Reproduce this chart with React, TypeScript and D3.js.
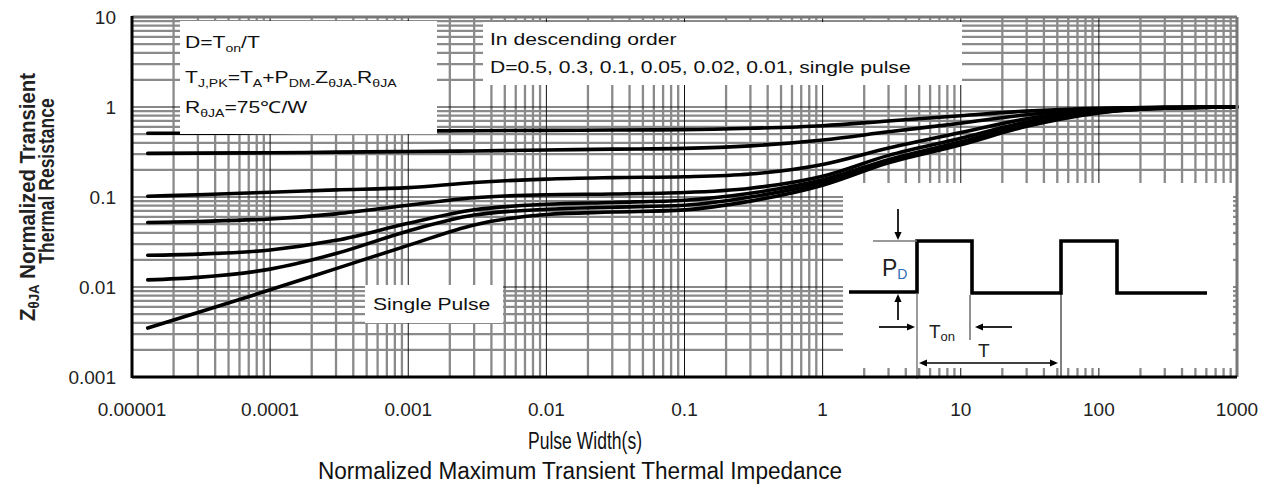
import React from "react";
import * as d3 from "d3";

// ---------- data ----------
const xTickValues = [1e-5, 1e-4, 1e-3, 1e-2, 1e-1, 1, 10, 100, 1000];
const xTickLabels = ["0.00001", "0.0001", "0.001", "0.01", "0.1", "1", "10", "100", "1000"];
const yTickValues = [0.001, 0.01, 0.1, 1, 10];
const yTickLabels = ["0.001", "0.01", "0.1", "1", "10"];

const pulseWidth = [1.3e-5, 3e-5, 1e-4, 3e-4, 1e-3, 3e-3, 1e-2, 3e-2, 0.1, 0.3, 1, 3, 10, 30, 100, 300, 1000];
const zD050 = [0.51, 0.51, 0.52, 0.53, 0.54, 0.545, 0.55, 0.555, 0.56, 0.58, 0.62, 0.7, 0.8, 0.9, 0.97, 0.995, 1.0];
const zD030 = [0.305, 0.307, 0.31, 0.315, 0.32, 0.325, 0.333, 0.34, 0.347, 0.37, 0.43, 0.53, 0.66, 0.82, 0.95, 0.99, 1.0];
const zD010 = [0.102, 0.106, 0.113, 0.12, 0.127, 0.145, 0.158, 0.164, 0.168, 0.18, 0.23, 0.35, 0.52, 0.74, 0.93, 0.985, 1.0];
const zD005 = [0.052, 0.0535, 0.057, 0.065, 0.081, 0.098, 0.106, 0.108, 0.112, 0.125, 0.17, 0.29, 0.45, 0.68, 0.9, 0.98, 1.0];
const zD002 = [0.0225, 0.0232, 0.0258, 0.033, 0.051, 0.072, 0.083, 0.087, 0.092, 0.11, 0.155, 0.26, 0.41, 0.64, 0.88, 0.975, 1.0];
const zD001 = [0.012, 0.0128, 0.0158, 0.0235, 0.042, 0.063, 0.073, 0.077, 0.081, 0.1, 0.145, 0.25, 0.39, 0.62, 0.87, 0.97, 1.0];
const zSingle = [0.0035, 0.0052, 0.0093, 0.016, 0.029, 0.049, 0.064, 0.068, 0.072, 0.09, 0.135, 0.24, 0.38, 0.61, 0.86, 0.97, 1.0];

const seriesNames = ["D=0.5", "D=0.3", "D=0.1", "D=0.05", "D=0.02", "D=0.01", "single pulse"];
const seriesValues = [zD050, zD030, zD010, zD005, zD002, zD001, zSingle];

const FONT = "'Liberation Sans', Arial, Helvetica, sans-serif";
const SX = 1.28; // horizontal stretch of the datasheet picture text

function Arrow({ x1, y1, x2, y2, head = 8, w = 1.7 }: any) {
  const a = Math.atan2(y2 - y1, x2 - x1);
  const bx = x2 - head * Math.cos(a);
  const by = y2 - head * Math.sin(a);
  const px = Math.sin(a) * head * 0.45;
  const py = -Math.cos(a) * head * 0.45;
  return (
    <g>
      <line x1={x1} y1={y1} x2={bx} y2={by} stroke="#000" strokeWidth={w} />
      <polygon points={`${x2},${y2} ${bx + px},${by + py} ${bx - px},${by - py}`} fill="#000" />
    </g>
  );
}

export default function App() {
  const L = 132, R = 1237, T = 17, B = 377;
  const x = d3.scaleLog().domain([1e-5, 1000]).range([L, R]);
  const y = d3.scaleLog().domain([0.001, 10]).range([B, T]);

  const xMinor: number[] = [];
  for (let e = -5; e < 3; e++) for (let m = 2; m <= 9; m++) xMinor.push(m * Math.pow(10, e));
  const yMinor: number[] = [];
  for (let e = -3; e < 1; e++) for (let m = 2; m <= 9; m++) yMinor.push(m * Math.pow(10, e));

  const line = d3
    .line<number>()
    .x((_, i) => x(pulseWidth[i]))
    .y((d) => y(d))
    .curve(d3.curveMonotoneX);

  const gridGray = "#8a8a8a";

  return (
    <svg
      width={1269}
      height={499}
      viewBox="0 0 1269 499"
      style={{ position: "absolute", left: 0, top: 0, background: "#fff" }}
      fontFamily={FONT}
    >
      <rect x={0} y={0} width={1269} height={499} fill="#fff" />
      {/* grid */}
      <g>
        {xMinor.map((v, i) => (
          <line key={"xm" + i} x1={x(v)} x2={x(v)} y1={T} y2={B} stroke={gridGray} strokeWidth={2.3} />
        ))}
        {yMinor.map((v, i) => (
          <line key={"ym" + i} x1={L} x2={R} y1={y(v)} y2={y(v)} stroke={gridGray} strokeWidth={2.3} />
        ))}
        {xTickValues.map((v, i) => (
          <line key={"xd" + i} x1={x(v)} x2={x(v)} y1={T} y2={B} stroke="#111" strokeWidth={1} />
        ))}
        {yTickValues.map((v, i) => (
          <line key={"yd" + i} x1={L} x2={R} y1={y(v)} y2={y(v)} stroke="#111" strokeWidth={1} />
        ))}
      </g>

      {/* curves */}
      <g fill="none" stroke="#000" strokeWidth={3.6} strokeLinecap="round">
        {seriesValues.map((vals, i) => (
          <path key={seriesNames[i]} d={line(vals) || ""} />
        ))}
      </g>

      {/* text boxes */}
      <rect x={180} y={21} width={257} height={113} fill="#fff" />
      <rect x={483} y={22} width={479} height={63} fill="#fff" />
      <rect x={365} y={285} width={138} height={38} fill="#fff" />
      <rect x={843} y={183} width={390} height={185} fill="#fff" />

      <g fontSize={16.5} fill="#111">
        <g transform={`translate(185,48) scale(${SX},1)`}>
          <text x={0} y={0}>
            D=T<tspan dy={4} fontSize={11}>on</tspan>
            <tspan dy={-4}>/T</tspan>
          </text>
        </g>
        <g transform={`translate(185,83) scale(${SX},1)`}>
          <text x={0} y={0}>
            T<tspan dy={4} fontSize={11}>J,PK</tspan>
            <tspan dy={-4}>=T</tspan>
            <tspan dy={4} fontSize={11}>A</tspan>
            <tspan dy={-4}>+P</tspan>
            <tspan dy={4} fontSize={11}>DM-</tspan>
            <tspan dy={-4}>Z</tspan>
            <tspan dy={4} fontSize={11}>θJA-</tspan>
            <tspan dy={-4}>R</tspan>
            <tspan dy={4} fontSize={11}>θJA</tspan>
          </text>
        </g>
        <g transform={`translate(185,113) scale(${SX},1)`}>
          <text x={0} y={0}>
            R<tspan dy={4} fontSize={11}>θJA</tspan>
            <tspan dy={-4}>=75℃/W</tspan>
          </text>
        </g>
        <g transform={`translate(490,45) scale(${SX},1)`}>
          <text x={0} y={0}>In descending order</text>
        </g>
        <g transform={`translate(490,73) scale(${SX},1)`}>
          <text x={0} y={0}>D=0.5, 0.3, 0.1, 0.05, 0.02, 0.01, single pulse</text>
        </g>
        <g transform={`translate(373,310) scale(${SX},1)`}>
          <text x={0} y={0}>Single Pulse</text>
        </g>
      </g>

      {/* pulse inset */}
      <g>
        <path
          d="M849,292 H917 V241 H972 V293 H1061 V241 H1117 V293 H1207"
          fill="none"
          stroke="#000"
          strokeWidth={3.6}
        />
        <line x1={873} x2={917} y1={241} y2={241} stroke="#777" strokeWidth={1.5} />
        <Arrow x1={898} y1={209} x2={898} y2={240} />
        <Arrow x1={898} y1={320} x2={898} y2={294} />
        <Arrow x1={879} y1={327} x2={915} y2={327} />
        <line x1={917} x2={917} y1={293} y2={379} stroke="#666" strokeWidth={1.3} />
        <line x1={970} x2={970} y1={295} y2={340} stroke="#777" strokeWidth={1.6} />
        <Arrow x1={1012} y1={327} x2={975} y2={327} />
        <Arrow x1={990} y1={363} x2={919} y2={363} />
        <Arrow x1={990} y1={363} x2={1058} y2={363} />
        <line x1={1061} x2={1061} y1={293} y2={378} stroke="#000" strokeWidth={1} />
        <text x={882} y={276} fontSize={23} fill="#222">
          P<tspan dy={3} fontSize={14} fill="#2d6cb5">D</tspan>
        </text>
        <text x={929} y={338} fontSize={19} fill="#222">
          T<tspan dy={3} fontSize={13}>on</tspan>
        </text>
        <text x={978} y={357} fontSize={19} fill="#222">
          T
        </text>
      </g>

      {/* frame */}
      <line x1={L} x2={R} y1={T} y2={T} stroke="#777" strokeWidth={3} />
      <line x1={R} x2={R} y1={T} y2={B} stroke="#777" strokeWidth={3} />
      <line x1={L} x2={L} y1={T - 1} y2={B + 1} stroke="#000" strokeWidth={3} />
      <line x1={L} x2={R} y1={B} y2={B} stroke="#000" strokeWidth={3} />

      {/* tick labels */}
      <g fontSize={19} fill="#222">
        {xTickValues.map((v, i) => (
          <text key={"xl" + i} x={x(v)} y={416} textAnchor="middle">
            {xTickLabels[i]}
          </text>
        ))}
        {yTickValues.map((v, i) => (
          <text key={"yl" + i} x={116} y={y(v) + 7} textAnchor="end">
            {yTickLabels[i]}
          </text>
        ))}
      </g>

      {/* y-axis title */}
      <g fontWeight="bold" fontSize={17.5} fill="#222">
        <g transform="translate(35,197) scale(1.22,1) rotate(-90)">
          <text textAnchor="middle" textLength={248} lengthAdjust="spacingAndGlyphs">
            Z<tspan dy={3} fontSize={11.5}>θJA</tspan>
            <tspan dy={-3}> Normalized Transient</tspan>
          </text>
        </g>
        <g transform="translate(54,181) scale(1.22,1) rotate(-90)">
          <text textAnchor="middle">Thermal Resistance</text>
        </g>
      </g>

      {/* x-axis title & caption */}
      <text x={585} y={449} fontSize={23} textAnchor="middle" fill="#111" textLength={114} lengthAdjust="spacingAndGlyphs">
        Pulse Width(s)
      </text>
      <text x={580} y={479} fontSize={23} textAnchor="middle" fill="#111" textLength={524} lengthAdjust="spacingAndGlyphs">
        Normalized Maximum Transient Thermal Impedance
      </text>
    </svg>
  );
}
